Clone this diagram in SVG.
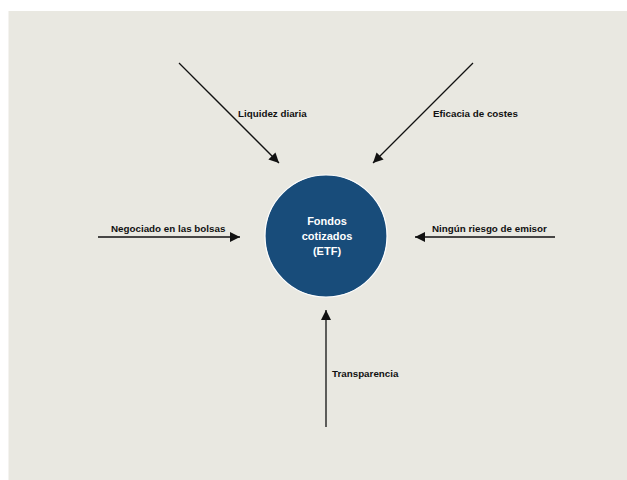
<svg xmlns="http://www.w3.org/2000/svg" width="627" height="480" viewBox="0 0 627 480">
<style>
.lbl{font-family:"Liberation Sans",Arial,sans-serif;font-size:9.8px;font-weight:bold;fill:#111}
.ctr{font-family:"Liberation Sans",Arial,sans-serif;font-size:11px;font-weight:bold;fill:#ffffff;text-anchor:middle}
.conn{stroke:#111;stroke-width:1.3;fill:none;marker-end:url(#ah)}
</style>
<defs>
<marker id="ah" viewBox="0 0 10 10" refX="10" refY="5" markerWidth="10" markerHeight="10" markerUnits="userSpaceOnUse" orient="auto">
<path d="M0,0 L10,5 L0,10 Z" fill="#111"/>
</marker>
</defs>
<rect x="8.5" y="11" width="619" height="469" fill="#e9e8e1"/>
<g id="connectors">
<line class="conn" x1="179" y1="63" x2="279" y2="163"/>
<line class="conn" x1="473" y1="63" x2="373" y2="163"/>
<line class="conn" x1="98" y1="237" x2="240" y2="237"/>
<line class="conn" x1="555" y1="237" x2="415" y2="237"/>
<line class="conn" x1="326" y1="427" x2="326" y2="310"/>
</g>
<g id="center">
<circle cx="326" cy="236" r="61" fill="#184c7a" stroke="#ffffff" stroke-width="1.2"/>
<text class="ctr" x="327" y="225">Fondos</text>
<text class="ctr" x="327" y="240">cotizados</text>
<text class="ctr" x="327" y="255">(ETF)</text>
</g>
<g id="liquidez"><text class="lbl" x="238" y="117">Liquidez diaria</text></g>
<g id="eficacia"><text class="lbl" x="433" y="117">Eficacia de costes</text></g>
<g id="negociado"><text class="lbl" x="111" y="232">Negociado en las bolsas</text></g>
<g id="ningun"><text class="lbl" x="432" y="232">Ningún riesgo de emisor</text></g>
<g id="transparencia"><text class="lbl" x="332" y="377">Transparencia</text></g>
</svg>
